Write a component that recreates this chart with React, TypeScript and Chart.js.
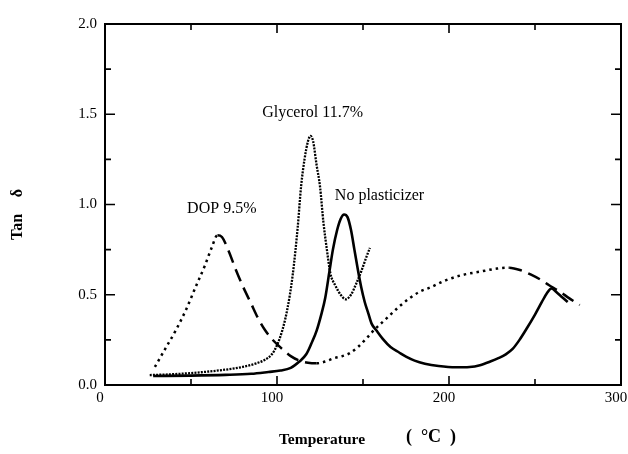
import React, { useEffect, useRef } from "react";
import { Chart, registerables } from "chart.js";

Chart.register(...registerables);

// ---- data (temperature °C, tan δ) ----
const noPlastT = [28, 50, 70, 85, 95, 102, 108, 113, 117, 120, 123, 126, 128, 130.5, 132.5, 135, 137, 139, 141, 143, 145, 147, 149, 151, 153, 155, 158, 162, 166, 171, 175, 180, 186, 194, 204, 212, 218, 224, 229, 233, 237, 241, 245, 250, 254, 257, 259.5, 263, 266, 269];
const noPlastY = [0.05, 0.052, 0.056, 0.062, 0.072, 0.08, 0.095, 0.13, 0.17, 0.23, 0.3, 0.4, 0.48, 0.63, 0.75, 0.86, 0.92, 0.945, 0.93, 0.86, 0.75, 0.64, 0.54, 0.46, 0.4, 0.34, 0.3, 0.25, 0.21, 0.18, 0.157, 0.135, 0.118, 0.105, 0.098, 0.1, 0.11, 0.13, 0.15, 0.17, 0.2, 0.25, 0.31, 0.39, 0.46, 0.51, 0.535, 0.51, 0.485, 0.46];

const glyT = [26, 40, 55, 70, 80, 88, 93, 97, 100, 103, 106, 109, 112, 114, 116, 118, 119.5, 121, 123, 125, 127, 129, 131, 134, 137, 140, 143, 146, 149, 152, 154];
const glyY = [0.055, 0.06, 0.07, 0.085, 0.1, 0.12, 0.14, 0.17, 0.22, 0.3, 0.42, 0.6, 0.87, 1.1, 1.25, 1.35, 1.38, 1.35, 1.22, 1.1, 0.9, 0.75, 0.62, 0.55, 0.5, 0.475, 0.5, 0.56, 0.63, 0.71, 0.76];

const dopT = [29, 35, 41, 47, 53, 58, 62, 65.4, 68, 72, 76, 80, 85, 89, 93, 98, 103, 108, 113, 118, 123, 128, 133, 138, 142, 147, 152, 157, 161.5, 166, 171, 177, 183, 189, 198, 208, 218, 228, 235, 242, 248, 253, 258, 264, 270, 276];
const dopY = [0.1, 0.2, 0.3, 0.415, 0.55, 0.66, 0.76, 0.83, 0.82, 0.74, 0.64, 0.55, 0.45, 0.37, 0.305, 0.245, 0.2, 0.16, 0.135, 0.123, 0.12, 0.13, 0.148, 0.16, 0.175, 0.21, 0.258, 0.31, 0.35, 0.39, 0.434, 0.48, 0.517, 0.54, 0.58, 0.61, 0.628, 0.645, 0.65, 0.635, 0.61, 0.585, 0.554, 0.52, 0.48, 0.443];

const xTickLabels = ["0", "100", "200", "300"];
const yTickLabels = ["0.0", "0.5", "1.0", "1.5", "2.0"];

const curveLabels = [
  { text: "DOP 9.5%", x: 67.9, y: 0.975 },
  { text: "Glycerol 11.7%", x: 120.7, y: 1.51 },
  { text: "No plasticizer", x: 159.6, y: 1.05 },
];

const pts = (xs: number[], ys: number[]) => xs.map((x, i) => ({ x, y: ys[i] }));

const SERIF = "'Liberation Serif', 'DejaVu Serif', serif";

const framePlugin = {
  id: "frame",
  afterDraw(chart: any) {
    const { ctx, chartArea: a, scales } = chart;
    const xs = scales.x;
    const ys = scales.y;
    ctx.save();
    ctx.strokeStyle = "#000";
    ctx.lineWidth = 2;
    ctx.strokeRect(a.left, a.top, a.right - a.left, a.bottom - a.top);
    ctx.lineWidth = 1.6;
    for (let v = 0; v <= 300; v += 50) {
      const px = xs.getPixelForValue(v);
      const len = v % 100 === 0 ? 9 : 6;
      ctx.beginPath();
      ctx.moveTo(px, a.bottom);
      ctx.lineTo(px, a.bottom - len);
      ctx.moveTo(px, a.top);
      ctx.lineTo(px, a.top + len);
      ctx.stroke();
    }
    for (let k = 0; k <= 8; k++) {
      const v = k * 0.25;
      const py = ys.getPixelForValue(v);
      const len = k % 2 === 0 ? 10 : 6;
      ctx.beginPath();
      ctx.moveTo(a.left, py);
      ctx.lineTo(a.left + len, py);
      ctx.moveTo(a.right, py);
      ctx.lineTo(a.right - len, py);
      ctx.stroke();
    }
    // curve labels
    ctx.fillStyle = "#000";
    ctx.font = `16px ${SERIF}`;
    ctx.textAlign = "center";
    ctx.textBaseline = "middle";
    curveLabels.forEach((l) => {
      ctx.fillText(l.text, xs.getPixelForValue(l.x), ys.getPixelForValue(l.y));
    });
    // x title
    ctx.font = `bold 15.5px ${SERIF}`;
    ctx.fillText("Temperature", 322, 440);
    ctx.font = `bold 18px ${SERIF}`;
    ctx.fillText("(", 409, 437);
    ctx.fillText("°C", 431, 437);
    ctx.fillText(")", 453, 437);
    // y title
    ctx.save();
    ctx.translate(18, 215);
    ctx.rotate(-Math.PI / 2);
    ctx.font = `bold 16px ${SERIF}`;
    ctx.textAlign = "center";
    ctx.fillText("Tan", -12, 0);
    ctx.fillText("δ", 22, 0);
    ctx.restore();
    ctx.restore();
  },
};

export default function App() {
  const ref = useRef<HTMLCanvasElement | null>(null);
  useEffect(() => {
    document.body.style.margin = "0";
    const canvas = ref.current!;
    const chart = new Chart(canvas, {
      type: "scatter",
      data: {
        datasets: [
          {
            label: "No plasticizer",
            data: pts(noPlastT, noPlastY),
            showLine: true,
            borderColor: "#000",
            borderWidth: 2.6,
            pointRadius: 0,
            cubicInterpolationMode: "monotone",
          },
          {
            label: "Glycerol 11.7%",
            data: pts(glyT, glyY),
            showLine: true,
            borderColor: "#000",
            borderWidth: 2.3,
            borderDash: [2, 1.2],
            pointRadius: 0,
            cubicInterpolationMode: "monotone",
          },
          {
            label: "DOP 9.5%",
            data: pts(dopT, dopY),
            showLine: true,
            borderColor: "#000",
            borderWidth: 2.5,
            pointRadius: 0,
            cubicInterpolationMode: "monotone",
            segment: {
              borderDash: (c: any) =>
                c.p1.parsed.y >= c.p0.parsed.y ? [2.5, 4] : [13, 7],
            },
          } as any,
        ],
      },
      options: {
        animation: false,
        responsive: false,
        layout: { padding: { top: 24, right: 7, left: 0, bottom: 0 } },
        plugins: { legend: { display: false }, tooltip: { enabled: false } },
        scales: {
          x: {
            type: "linear",
            min: 0,
            max: 300,
            grid: { display: false, drawTicks: false },
            border: { display: false },
            afterFit: (s: any) => {
              s.height = 69;
              s.paddingLeft = 0;
              s.paddingRight = 0;
            },
            afterBuildTicks: (s: any) => {
              s.ticks = xTickLabels.map((t) => ({ value: Number(t) }));
            },
            ticks: {
              autoSkip: false,
              maxRotation: 0,
              padding: 4,
              labelOffset: -5,
              color: "#000",
              font: { family: SERIF, size: 15 },
              callback: (v: any) => String(v),
            },
          },
          y: {
            type: "linear",
            min: 0,
            max: 2,
            grid: { display: false, drawTicks: false },
            border: { display: false },
            afterFit: (s: any) => {
              s.width = 105;
              s.paddingTop = 0;
              s.paddingBottom = 0;
            },
            afterBuildTicks: (s: any) => {
              s.ticks = yTickLabels.map((t) => ({ value: Number(t) }));
            },
            ticks: {
              autoSkip: false,
              padding: 8,
              color: "#000",
              font: { family: SERIF, size: 15 },
              callback: (v: any) => Number(v).toFixed(1),
            },
          },
        },
      },
      plugins: [framePlugin],
    });
    return () => chart.destroy();
  }, []);
  return (
    <div style={{ width: 628, height: 454, background: "#fff" }}>
      <canvas ref={ref} width={628} height={454} />
    </div>
  );
}
